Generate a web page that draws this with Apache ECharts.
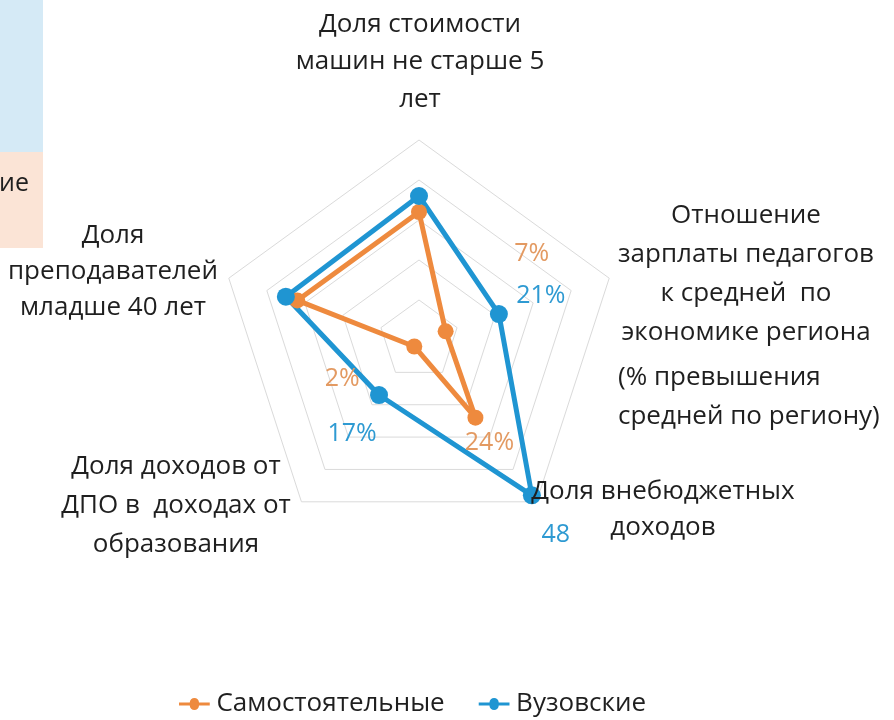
<!DOCTYPE html>
<html>
<head>
<meta charset="utf-8">
<script src="https://cdn.jsdelivr.net/npm/echarts@6/dist/echarts.min.js"></script>
<style>
  html, body { margin: 0; padding: 0; background: #fff; }
  #chart { width: 894px; height: 720px; }
</style>
</head>
<body>
<div id="chart"></div>
<script>
// Indicators, counter-clockwise from the top
const indicatorNames = [
  'Доля стоимости машин не старше 5 лет',
  'Доля преподавателей младше 40 лет',
  'Доля доходов от ДПО в доходах от образования',
  'Доля внебюджетных доходов',
  'Отношение зарплаты педагогов к средней по экономике региона'
];
const axisMax = 50;
const seriesNames = ['Самостоятельные', 'Вузовские'];
const valuesIndependent = [32, 32, 2, 24, 7];
const valuesUniversity = [36, 35, 17, 48, 21];
// value captions: which axes carry a caption and its suffix
const labelSuffixIndependent = [null, null, '%', '%', '%'];
const labelSuffixUniversity = [null, null, '%', '', '%'];

const FONT = 'Open Sans';
const ORANGE = '#EE8A3E';
const BLUE = '#1F95D2';
const ORANGE_TXT = '#E39A62';
const BLUE_TXT = '#2E9AD2';

const CENTER = [419, 340];
const RADIUS = 200;

// caption offsets relative to the data point (px)
const offIndependent = [null, null, [-72, 32], [14, 25], [86, -77]];
const offUniversity = [null, null, [-27, 39], [24, 40], [42, -18]];

function pointAt(i, v) {
  const ang = (90 + 72 * i) * Math.PI / 180;
  const r = v / axisMax * RADIUS;
  return [CENTER[0] + r * Math.cos(ang), CENTER[1] - r * Math.sin(ang)];
}

function captions(values, suffix, offs, color) {
  const out = [];
  values.forEach((v, i) => {
    if (suffix[i] === null) return;
    const p = pointAt(i, v);
    out.push({
      type: 'text', x: p[0] + offs[i][0], y: p[1] + offs[i][1], z: 10,
      style: { text: v + suffix[i], fill: color, font: '25px "' + FONT + '"',
               textAlign: 'center', textVerticalAlign: 'middle' }
    });
  });
  return out;
}

function block(lines, x, y, lh, align) {
  return {
    type: 'text', x: x, y: y, z: 10,
    style: {
      text: lines.join('\n'), fill: '#1f1f1f', font: '26px "' + FONT + '"',
      lineHeight: lh, textAlign: align || 'center', textVerticalAlign: 'middle'
    }
  };
}

const chart = echarts.init(document.getElementById('chart'), null, { renderer: 'canvas' });

// line with a dot in the middle, as in the plotted series
const legendIcon = 'path://M0,4.2 L14,4.2 A6,6 0 0 1 26,4.2 L40,4.2 L40,7.8 L26,7.8 A6,6 0 0 1 14,7.8 L0,7.8 Z';

chart.setOption({
  backgroundColor: '#fff',
  animation: false,
  textStyle: { fontFamily: FONT },
  legend: {
    top: 686, left: 174,
    itemWidth: 40, itemHeight: 12, itemGap: 34,
    textStyle: { fontSize: 26, color: '#1f1f1f', fontFamily: FONT, padding: [0, 0, 0, -3] },
    data: [
      { name: seriesNames[0], icon: legendIcon, itemStyle: { color: ORANGE } },
      { name: seriesNames[1], icon: legendIcon, itemStyle: { color: BLUE } }
    ]
  },
  radar: {
    center: CENTER, radius: RADIUS, startAngle: 90, splitNumber: 5, shape: 'polygon',
    indicator: indicatorNames.map(n => ({ name: n, min: 0, max: axisMax })),
    axisName: { show: false },
    axisLine: { show: false },
    axisTick: { show: false },
    splitArea: { show: false },
    splitLine: { lineStyle: { color: '#DADADA', width: 1 } }
  },
  series: [{
    type: 'radar',
    data: [
      { name: seriesNames[0], value: valuesIndependent, symbol: 'circle', symbolSize: 16,
        lineStyle: { color: ORANGE, width: 5 }, itemStyle: { color: ORANGE } },
      { name: seriesNames[1], value: valuesUniversity, symbol: 'circle', symbolSize: 18,
        lineStyle: { color: BLUE, width: 5 }, itemStyle: { color: BLUE } }
    ]
  }],
  graphic: [
    { type: 'rect', shape: { x: 0, y: 0, width: 43, height: 152 }, style: { fill: '#D5EAF6' } },
    { type: 'rect', shape: { x: 0, y: 152, width: 43, height: 96 }, style: { fill: '#FBE4D6' } },
    { type: 'text', x: -1, y: 184, style: { text: 'ие', fill: '#1f1f1f', font: '25px "' + FONT + '"', textVerticalAlign: 'middle' } },
    block(['Доля стоимости', 'машин не старше 5', 'лет'], 420, 62, 37.5),
    block(['Доля', 'преподавателей', 'младше 40 лет'], 113, 272, 36),
    block(['Доля доходов от', 'ДПО в  доходах от', 'образования'], 176, 506, 39),
    block(['Доля внебюджетных', 'доходов'], 663, 510, 36),
    block(['Отношение', 'зарплаты педагогов', 'к средней  по', 'экономике региона'], 746, 274.5, 39),
    block(['(% превышения', 'средней по региону)'], 618, 397.5, 39, 'left')
  ].concat(
    captions(valuesIndependent, labelSuffixIndependent, offIndependent, ORANGE_TXT),
    captions(valuesUniversity, labelSuffixUniversity, offUniversity, BLUE_TXT)
  )
});
</script>
</body>
</html>
